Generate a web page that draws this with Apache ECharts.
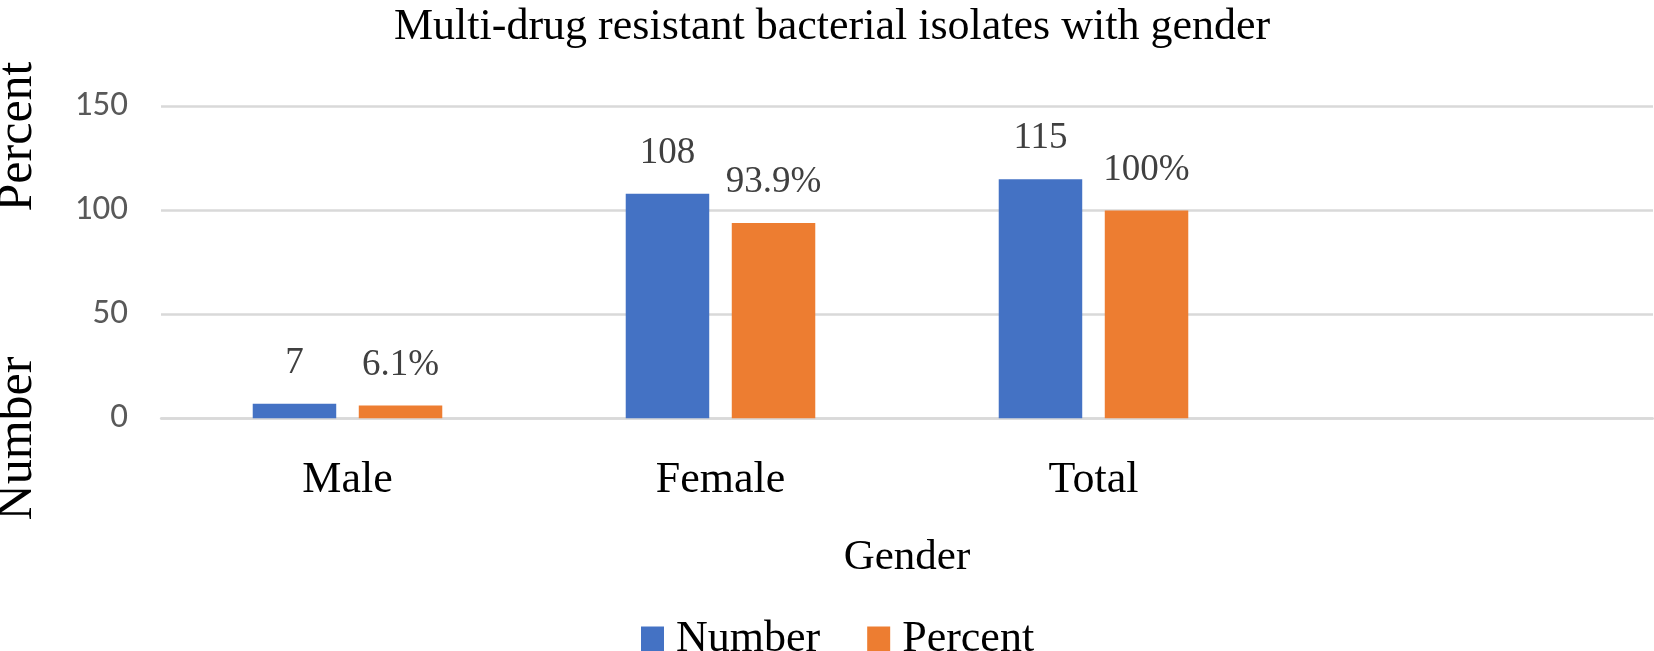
<!DOCTYPE html>
<html>
<head>
<meta charset="utf-8">
<script src="https://cdn.jsdelivr.net/npm/echarts@6/dist/echarts.min.js"></script>
<style>
html,body{margin:0;padding:0;background:#fff;}
#chart{width:1654px;height:651px;}
</style>
</head>
<body>
<div id="chart"></div>
<script>
const categories = ['Male', 'Female', 'Total', ''];
const numberValues = [7, 108, 115, '-'];
const percentValues = [6.1, 93.9, 100, '-'];
const percentLabels = ['6.1%', '93.9%', '100%', ''];
const seriesNames = ['Number', 'Percent'];
const yTicks = { min: 0, max: 150, interval: 50 };

const serif = "'Liberation Serif', 'Times New Roman', serif";
const sans = "Carlito, 'Liberation Sans', sans-serif";

const chart = echarts.init(document.getElementById('chart'));
chart.setOption({
  backgroundColor: '#ffffff',
  animation: false,
  title: {
    text: 'Multi-drug resistant bacterial isolates with gender',
    left: 389, top: 0,
    textStyle: { fontFamily: serif, fontSize: 44, fontWeight: 'normal', color: '#000' }
  },
  legend: {
    data: seriesNames,
    left: 636, top: 612,
    icon: 'rect', itemWidth: 23, itemHeight: 25, itemGap: 47,
    textStyle: { fontFamily: serif, fontSize: 44, color: '#000', padding: [0, 0, 0, 7] }
  },
  grid: { left: 161, right: 1, top: 106.5, bottom: 232.7, containLabel: false },
  xAxis: {
    type: 'category',
    data: categories,
    name: 'Gender',
    nameLocation: 'middle',
    nameGap: 118,
    nameTextStyle: { fontFamily: serif, fontSize: 43, color: '#000' },
    axisLine: { lineStyle: { color: '#d9d9d9', width: 2.5 } },
    axisTick: { show: false },
    axisLabel: { fontFamily: serif, fontSize: 44, color: '#000', margin: 40 }
  },
  yAxis: {
    type: 'value',
    min: yTicks.min, max: yTicks.max, interval: yTicks.interval,
    axisLine: { show: false },
    axisTick: { show: false },
    axisLabel: { fontFamily: sans, fontSize: 35, color: '#595959', margin: 33 },
    splitLine: { lineStyle: { color: '#d9d9d9', width: 2.5 } }
  },
  graphic: [
    { type: 'text', x: 17.5, y: 136.5, rotation: Math.PI / 2,
      style: { text: 'Percent', font: '50px ' + serif, fill: '#000', textAlign: 'center', textVerticalAlign: 'middle' } },
    { type: 'text', x: 17.5, y: 438.5, rotation: Math.PI / 2,
      style: { text: 'Number', font: '50px ' + serif, fill: '#000', textAlign: 'center', textVerticalAlign: 'middle' } }
  ],
  series: [
    {
      name: seriesNames[0], type: 'bar', data: numberValues,
      barWidth: 83.5, barGap: '27%',
      itemStyle: { color: '#4472C4' },
      label: { show: true, position: 'top', distance: 22, fontFamily: serif, fontSize: 37, color: '#404040' }
    },
    {
      name: seriesNames[1], type: 'bar', data: percentValues,
      barWidth: 83.5, barGap: '27%',
      itemStyle: { color: '#ED7D31' },
      label: { show: true, position: 'top', distance: 22, fontFamily: serif, fontSize: 37, color: '#404040',
        formatter: p => percentLabels[p.dataIndex] }
    }
  ]
});
</script>
</body>
</html>
